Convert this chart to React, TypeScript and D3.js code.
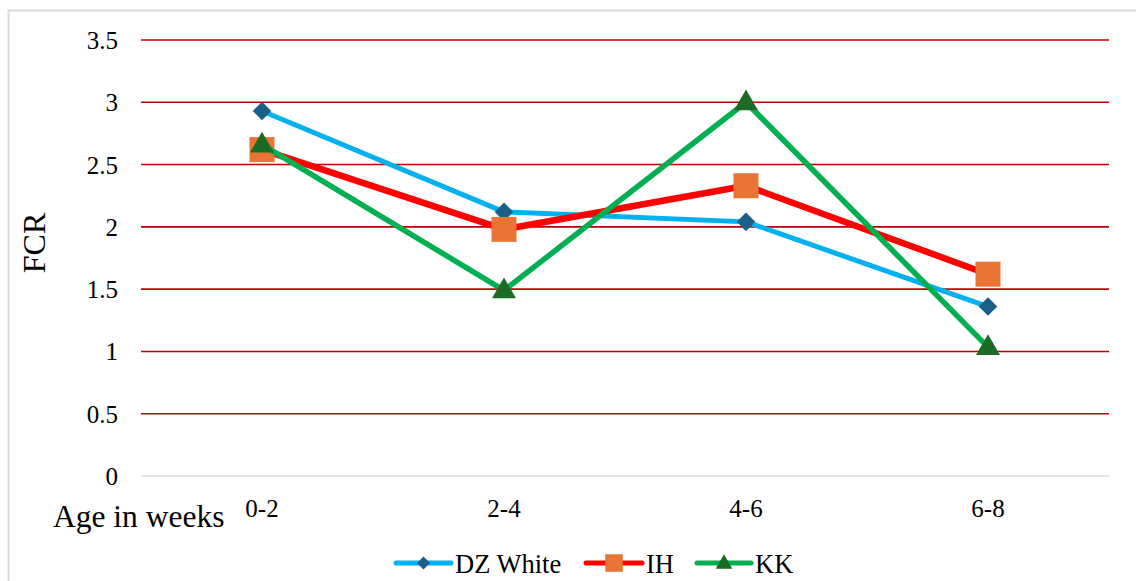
import React, {useEffect, useRef} from "react";
import * as d3 from "d3";

const categories = ["0-2", "2-4", "4-6", "6-8"];
const dzWhite = [2.93, 2.12, 2.04, 1.36];
const ih = [2.62, 1.98, 2.33, 1.62];
const kk = [2.66, 1.49, 3.0, 1.035];
const yTicks = [0, 0.5, 1, 1.5, 2, 2.5, 3, 3.5];

const series = [
	{name: "DZ White", values: dzWhite, line: "#00b0f0", marker: "#1a5f87", shape: "diamond", width: 5},
	{name: "IH", values: ih, line: "#ff0000", marker: "#ea7434", shape: "square", width: 6.5},
	{name: "KK", values: kk, line: "#00b050", marker: "#1b6b24", shape: "triangle", width: 5.5},
];

const W = 1136;
const H = 581;
const FONT = "'Times New Roman', Tinos, 'Liberation Serif', 'DejaVu Serif', serif";

type G = d3.Selection<SVGGElement, unknown, null, undefined>;

// scale = 1 for plot markers, smaller for the legend
const drawMarker = (g: G, shape: string, x: number, y: number, color: string, scale = 1) => {
	if (shape === "square") {
		const s = 25 * scale;
		g.append("rect").attr("x", x - s / 2).attr("y", y - s / 2).attr("width", s).attr("height", s).attr("fill", color);
	} else if (shape === "diamond") {
		g.append("path")
			.attr("d", d3.symbol().type(d3.symbolDiamond2).size(220 * scale * scale)())
			.attr("transform", `translate(${x},${y})`)
			.attr("fill", color);
	} else {
		g.append("path")
			.attr("d", d3.symbol().type(d3.symbolTriangle).size(250 * scale * scale)())
			.attr("transform", `translate(${x},${y + 1})`)
			.attr("fill", color);
	}
};

const App: React.FC = () => {
	const svgRef = useRef<SVGSVGElement>(null);

	useEffect(() => {
		const svg = d3.select(svgRef.current);
		svg.selectAll("*").remove();

		// Chart frame (runs past the right/bottom edge of the picture)
		svg.append("rect")
			.attr("x", 8.5).attr("y", 10.5)
			.attr("width", 1140).attr("height", 600)
			.attr("fill", "#fff").attr("stroke", "#d9d9d9").attr("stroke-width", 2);

		const xScale = d3.scaleBand().domain(categories).range([141, 1109]);
		const yScale = d3.scaleLinear().domain([0, 3.5]).range([476, 40]);
		const cx = (c: string) => (xScale(c) || 0) + xScale.bandwidth() / 2;

		const g = svg.append("g").style("font-family", FONT).attr("fill", "#000") as G;

		// Gridlines
		g.selectAll(".grid")
			.data(yTicks.filter((t) => t > 0))
			.enter()
			.append("line")
			.attr("x1", 141).attr("x2", 1109)
			.attr("y1", (d) => yScale(d)).attr("y2", (d) => yScale(d))
			.attr("stroke", "#c00000").attr("stroke-width", 1.6);

		// Zero axis
		g.append("line")
			.attr("x1", 141).attr("x2", 1109)
			.attr("y1", yScale(0)).attr("y2", yScale(0))
			.attr("stroke", "#d9d9d9").attr("stroke-width", 1.5);

		// Y tick labels
		g.selectAll(".ytick")
			.data(yTicks)
			.enter()
			.append("text")
			.attr("x", 118)
			.attr("y", (d) => yScale(d) + 9)
			.attr("text-anchor", "end")
			.attr("font-size", 25)
			.text((d) => String(d));

		// X tick labels
		g.selectAll(".xtick")
			.data(categories)
			.enter()
			.append("text")
			.attr("x", (d) => cx(d))
			.attr("y", 517)
			.attr("text-anchor", "middle")
			.attr("font-size", 25)
			.text((d) => d);

		// Axis titles
		g.append("text")
			.attr("transform", `translate(45, 243) rotate(-90)`)
			.attr("text-anchor", "middle")
			.attr("font-size", 32)
			.text("FCR");
		g.append("text")
			.attr("x", 53).attr("y", 527)
			.attr("font-size", 31.5)
			.text("Age in weeks");

		// Series
		const line = d3.line<number>()
			.x((_, i) => cx(categories[i]))
			.y((d) => yScale(d));

		series.forEach((s) => {
			g.append("path")
				.attr("d", line(s.values))
				.attr("fill", "none")
				.attr("stroke", s.line)
				.attr("stroke-width", s.width)
				.attr("stroke-linejoin", "round");
			s.values.forEach((v, i) => drawMarker(g, s.shape, cx(categories[i]), yScale(v), s.marker));
		});

		// Legend
		const legendItems = [
			{x0: 396, x1: 451, tx: 455},
			{x0: 586, x1: 642, tx: 646},
			{x0: 697, x1: 751, tx: 755},
		];
		const ly = 563;
		series.forEach((s, i) => {
			const it = legendItems[i];
			g.append("line")
				.attr("x1", it.x0).attr("x2", it.x1)
				.attr("y1", ly).attr("y2", ly)
				.attr("stroke", s.line).attr("stroke-width", 5)
				.attr("stroke-linecap", "round");
			drawMarker(g, s.shape, (it.x0 + it.x1) / 2, ly, s.marker, 0.7);
			g.append("text")
				.attr("x", it.tx).attr("y", 573)
				.attr("font-size", 26.5)
				.text(s.name);
		});
	}, []);

	return (
		<svg
			ref={svgRef}
			width={W}
			height={H}
			style={{position: "absolute", left: 0, top: 0, background: "#fff"}}
		/>
	);
};

export default App;
